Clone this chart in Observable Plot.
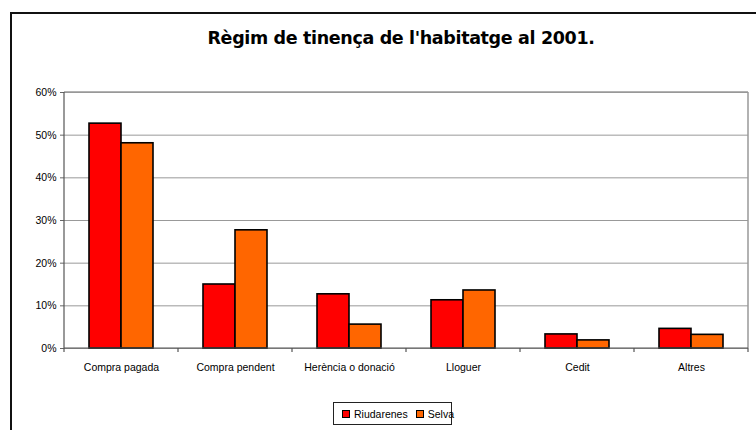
<!DOCTYPE html>
<html>
<head>
<meta charset="utf-8">
<script src="https://cdn.jsdelivr.net/npm/d3@7"></script>
<script src="https://cdn.jsdelivr.net/npm/@observablehq/plot@0.6"></script>
<style>
  html, body { margin: 0; padding: 0; background: #fff; overflow: hidden; }
  #wrap { position: relative; width: 756px; height: 430px; overflow: hidden; font-family: "Liberation Sans", Arial, sans-serif; }
  #border { position: absolute; left: 10px; top: 12px; width: 900px; height: 600px; border-left: 2px solid #111; border-top: 2px solid #111; }
  #title { position: absolute; top: 27px; left: 0; width: 802px; text-align: center; font-family: "DejaVu Sans", sans-serif; font-weight: 700; font-size: 17.5px; line-height: 22px; color: #000; letter-spacing: -0.35px; }
  #chart { position: absolute; left: 0; top: 60px; }
  #legend { position: absolute; left: 333px; top: 402px; width: 119px; height: 23px; border: 1px solid #222; background: #fff; display: flex; align-items: center; font-size: 10.5px; color: #000; box-sizing: border-box; padding-left: 8px; }
  .sw { display: inline-block; width: 6px; height: 6px; border: 1px solid #000; margin-right: 4px; }
  .item { display: flex; align-items: center; margin-right: 8px; }
</style>
</head>
<body>
<div id="wrap">
  <div id="border"></div>
  <div id="title">Règim de tinença de l'habitatge al 2001.</div>
  <div id="chart"></div>
  <div id="legend"></div>
</div>
<script>
const categories = ["Compra pagada", "Compra pendent", "Herència o donació", "Lloguer", "Cedit", "Altres"];
const series = ["Riudarenes", "Selva"];
const riudarenes = [52.7, 15.0, 12.7, 11.3, 3.3, 4.6];
const selva = [48.1, 27.7, 5.6, 13.6, 1.9, 3.2];
const colors = ["#FF0000", "#FF6600"];
const yTicks = [0, 10, 20, 30, 40, 50, 60];

const data = categories.flatMap((c, i) => [
  {cat: c, series: series[0], value: riudarenes[i]},
  {cat: c, series: series[1], value: selva[i]}
]);

const fmt = d => d + "%";

const plot = Plot.plot({
  width: 756,
  height: 340,
  marginTop: 32,
  marginBottom: 52,
  marginLeft: 62,
  marginRight: 6,
  style: {fontFamily: "'Liberation Sans', Arial, sans-serif", fontSize: "10.5px", color: "#000", background: "transparent", overflow: "visible"},
  fx: {domain: categories, padding: 0, label: null},
  x: {domain: series, paddingInner: 0, paddingOuter: 0.742, axis: null},
  y: {domain: [0, 60], label: null},
  color: {domain: series, range: colors},
  marks: [
    Plot.gridY(yTicks, {stroke: "#999", strokeOpacity: 1}),
    Plot.barY(data, {fx: "cat", x: "series", y: "value", fill: "series", stroke: "#000", strokeWidth: 1.6}),
    Plot.axisY(yTicks, {tickSize: 4, tickPadding: 4, stroke: "#666", strokeOpacity: 1, label: null, tickFormat: fmt}),
    Plot.axisFx({anchor: "bottom", tickSize: 0, tickPadding: 15, label: null})
  ]
});

document.getElementById("chart").appendChild(plot);

// plot-area frame, axis lines and category boundary ticks, placed with the plot's scales
const fx = plot.scale("fx");
const y = plot.scale("y");
const svg = d3.select(plot);
const x0 = fx.apply(categories[0]);
const x1 = fx.apply(categories[categories.length - 1]) + fx.bandwidth;
const yTop = y.apply(60), yBot = y.apply(0);
const g = svg.append("g");
g.append("line").attr("x1", x0).attr("x2", x1).attr("y1", yTop).attr("y2", yTop).attr("stroke", "#999").attr("stroke-width", 1.5);
g.append("line").attr("x1", x1).attr("x2", x1).attr("y1", yTop).attr("y2", yBot).attr("stroke", "#999").attr("stroke-width", 1.5);
g.append("line").attr("x1", x0).attr("x2", x0).attr("y1", yTop).attr("y2", yBot).attr("stroke", "#555").attr("stroke-width", 1.2);
g.append("line").attr("x1", x0).attr("x2", x1).attr("y1", yBot).attr("y2", yBot).attr("stroke", "#555").attr("stroke-width", 1.2);
const edges = categories.map(c => fx.apply(c)).concat([x1]);
g.selectAll("line.edge").data(edges).join("line")
  .attr("class", "edge")
  .attr("x1", d => d).attr("x2", d => d)
  .attr("y1", yBot).attr("y2", yBot + 4)
  .attr("stroke", "#555").attr("stroke-width", 1.2);

// legend
const legend = d3.select("#legend");
series.forEach((s, i) => {
  const it = legend.append("div").attr("class", "item");
  it.append("span").attr("class", "sw").style("background", colors[i]);
  it.append("span").text(s);
});
</script>
</body>
</html>
